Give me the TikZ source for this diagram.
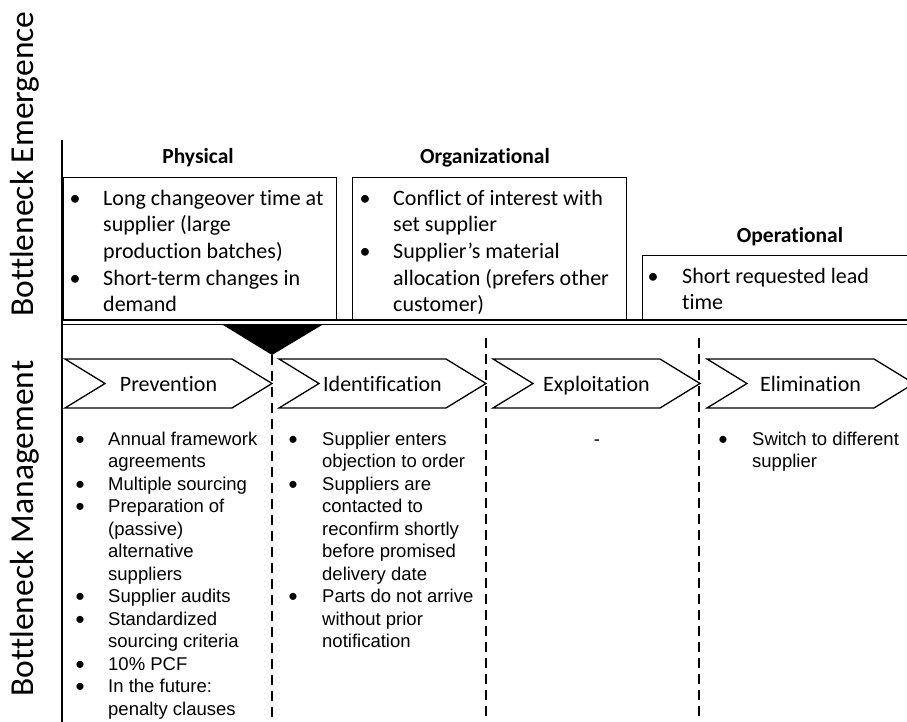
\documentclass[tikz,border=0pt]{standalone}
\usepackage{fontspec}
\usepackage{array}
\setmainfont{Carlito}[Ligatures=NoCommon]
\newfontfamily\arialfont{Liberation Sans}
\newfontfamily\bulletfont{Carlito}

% bullet list as a two-column tabular, aligned on the baseline of its first line
% #1 width from bullet box start to text start, #2 text width, #3 rows
\newcommand{\bulletlist}[3]{%
  \begin{tabular}[t]{@{}p{#1}@{}>{\raggedright\arraybackslash}p{#2}@{}}#3\end{tabular}}
\newcommand{\bul}{\makebox[7pt][c]{\textbullet}}
\newcommand{\lbul}{\makebox[7pt][c]{\bulletfont\fontsize{20}{20}\selectfont\textbullet}}

\tikzset{
  frame/.style={line width=1.3pt},
  boxframe/.style={draw, line width=1.3pt, inner sep=0pt, anchor=north west},
  head/.style={font=\bfseries\fontsize{21.5}{26}\selectfont, anchor=base, inner sep=0pt},
  boxtext/.style={font=\fontsize{22}{26.7}\selectfont, anchor=base west, inner sep=0pt},
  listtext/.style={font=\arialfont\fontsize{18.5}{22.5}\selectfont, anchor=base west, inner sep=0pt},
  phase/.style={font=\fontsize{22}{26}\selectfont, anchor=base, inner sep=0pt},
  axislabel/.style={font=\fontsize{33.5}{40}\selectfont, rotate=90, anchor=base, inner sep=0pt},
  divider/.style={line width=1.3pt, dash pattern=on 10pt off 6pt}
}

\begin{document}
\begin{tikzpicture}[x=1pt, y=-1pt]
\clip (0,0) rectangle (907,722);
\fill[white] (0,0) rectangle (907,722);

% side labels
\node[axislabel] (emergence) at (33,164) {Bottleneck Emergence};
\node[axislabel] (management) at (33,528.5) {Bottleneck Management};

% vertical axis
\draw[line width=2pt] (62,140) -- (62,722);

% emergence categories
\node[head] (physhead) at (198,164) {Physical};
\node[head] (orghead) at (485,164) {Organizational};
\node[head] (operhead) at (790,242) {Operational};

\node[boxframe, minimum width=273pt, minimum height=143pt] (physbox) at (63,177) {};
\node[boxframe, minimum width=274pt, minimum height=143pt] (orgbox) at (352,177) {};
\node[boxframe, minimum width=280pt, minimum height=65pt] (operbox) at (642,255) {};

\node[boxtext] (phystext) at (71.5,205) {\bulletlist{31.5pt}{240pt}{%
  \bul & Long changeover time at\newline supplier (large\newline production batches)\\
  \bul & Short-term changes in\newline demand\\}};
\node[boxtext] (orgtext) at (361.5,205) {\bulletlist{31.5pt}{240pt}{%
  \bul & Conflict of interest with\newline set supplier\\
  \bul & Supplier’s material\newline allocation (prefers other\newline customer)\\}};
\node[boxtext] (opertext) at (649.5,283) {\bulletlist{32.5pt}{240pt}{%
  \bul & Short requested lead\newline time\\}};

% separator between emergence and management
\draw[frame] (62,320) -- (907,320);
\draw[frame] (62,324.5) -- (907,324.5);

% wedge from emergence into management
\fill (223,325) -- (322,325) -- (272,355) -- cycle;

% phase dividers
\draw[divider] (272,355) -- (272,722);
\draw[divider] (486,338) -- (486,722);
\draw[divider] (699,338) -- (699,722);

% phase chevrons
\foreach \x/\name/\lbl in {65/prevention/Prevention, 279/identification/Identification, 493/exploitation/Exploitation, 707/elimination/Elimination}{
  \draw[frame, fill=white] (\x,359) -- ++(167,0) -- ++(40,24.5) -- ++(-40,24.5) -- ++(-167,0) -- ++(40,-24.5) -- cycle;
  \node[phase] (\name) at (\x+103.5,391) {\lbl};
}

% management measures
\node[listtext] (prevlist) at (76.5,445) {\bulletlist{31.5pt}{170pt}{%
  \lbul & Annual framework\newline agreements\\
  \lbul & Multiple sourcing\\
  \lbul & Preparation of\newline (passive)\newline alternative\newline suppliers\\
  \lbul & Supplier audits\\
  \lbul & Standardized\newline sourcing criteria\\
  \lbul & 10\% PCF\\
  \lbul & In the future:\newline penalty clauses\\}};
\node[listtext] (identlist) at (289.5,445) {\bulletlist{32.5pt}{170pt}{%
  \lbul & Supplier enters\newline objection to order\\
  \lbul & Suppliers are\newline contacted to\newline reconfirm shortly\newline before promised\newline delivery date\\
  \lbul & Parts do not arrive\newline without prior\newline notification\\}};
\node[listtext, anchor=base] (expllist) at (597,445) {-};
\node[listtext] (elimlist) at (719.5,445) {\bulletlist{32.5pt}{170pt}{%
  \lbul & Switch to different\newline supplier\\}};
\end{tikzpicture}
\end{document}
